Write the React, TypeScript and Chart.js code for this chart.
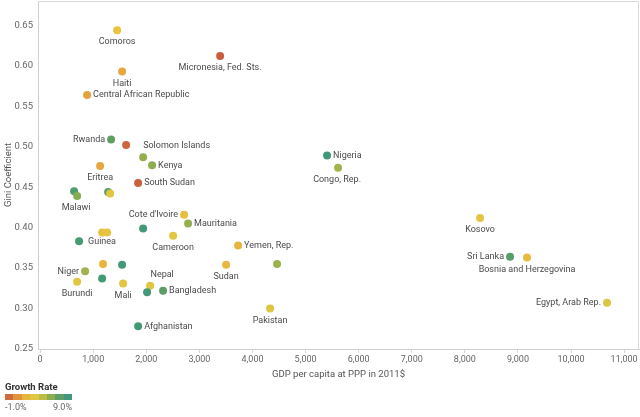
import React, { useEffect, useRef } from 'react';
import { Chart, registerables } from 'chart.js';

Chart.register(...registerables);

// ---------- data ----------
const countries: string[] = [
  'Comoros', 'Micronesia, Fed. Sts.', 'Haiti', 'Central African Republic', 'Rwanda',
  'Solomon Islands', '', 'Kenya', 'Eritrea', 'South Sudan',
  '', 'Malawi', '', '', 'Nigeria',
  'Congo, Rep.', "Cote d'Ivoire", 'Mauritania', '', '',
  '', 'Guinea', 'Cameroon', 'Yemen, Rep.', 'Niger',
  '', '', 'Burundi', '', 'Mali',
  'Nepal', '', 'Bangladesh', 'Sudan', 'Pakistan',
  '', 'Afghanistan', 'Kosovo', 'Sri Lanka', 'Bosnia and Herzegovina',
  'Egypt, Arab Rep.',
];

const gdpPerCapita: number[] = [
  1450, 3390, 1544, 885, 1337,
  1620, 1940, 2109, 1130, 1846,
  640, 697, 1281, 1318, 5405,
  5612, 2712, 2787, 1168, 1262,
  1940, 734, 2505, 3729, 847,
  1186, 1544, 697, 1168, 1563,
  2072, 2015, 2316, 3503, 4331,
  4463, 1846, 8286, 8851, 9171,
  10678,
];

const giniCoefficient: number[] = [
  0.644, 0.612, 0.593, 0.564, 0.509,
  0.502, 0.487, 0.477, 0.476, 0.455,
  0.445, 0.439, 0.444, 0.442, 0.489,
  0.474, 0.416, 0.405, 0.394, 0.394,
  0.399, 0.383, 0.390, 0.378, 0.346,
  0.355, 0.354, 0.333, 0.337, 0.331,
  0.328, 0.320, 0.322, 0.354, 0.300,
  0.355, 0.278, 0.412, 0.364, 0.363,
  0.307,
];

const growthRate: number[] = [
  3.0, -0.8, 1.5, 1.3, 7.0,
  -0.5, 5.6, 5.8, 1.5, -0.7,
  7.6, 6.0, 7.3, 3.2, 8.5,
  5.2, 2.6, 5.6, 2.8, 3.0,
  8.3, 8.0, 3.3, 2.2, 5.3,
  2.2, 8.3, 3.4, 8.2, 3.3,
  3.5, 8.3, 7.2, 2.3, 3.5,
  5.4, 8.2, 3.3, 7.3, 2.5,
  3.9,
];

const xTickValues: number[] = [0, 1000, 2000, 3000, 4000, 5000, 6000, 7000, 8000, 9000, 10000, 11000];
const yTickValues: number[] = [0.25, 0.3, 0.35, 0.4, 0.45, 0.5, 0.55, 0.6, 0.65];
const legendRange: number[] = [-1.0, 9.0];

// ---------- styles ----------
const FONT = "Roboto, 'Open Sans', 'DejaVu Sans', sans-serif";

const rampStops: [number, string][] = [
  [-1, '#c4553f'], [0.5, '#dc8a3b'], [1.5, '#e6a83e'], [3, '#e8c43f'], [4, '#d6c843'],
  [5, '#abb64a'], [6, '#86ab52'], [7, '#5f9f63'], [8, '#479a72'], [9, '#3a9381'],
];

function hexToRgb(h: string): number[] {
  const n = parseInt(h.slice(1), 16);
  return [(n >> 16) & 255, (n >> 8) & 255, n & 255];
}

function rampColor(v: number): string {
  if (v <= rampStops[0][0]) return rampStops[0][1];
  for (let i = 1; i < rampStops.length; i++) {
    const [v1, c1] = rampStops[i];
    const [v0, c0] = rampStops[i - 1];
    if (v <= v1) {
      const t = (v - v0) / (v1 - v0);
      const a = hexToRgb(c0);
      const b = hexToRgb(c1);
      const r = a.map((x, k) => Math.round(x + (b[k] - x) * t));
      return `rgb(${r[0]},${r[1]},${r[2]})`;
    }
  }
  return rampStops[rampStops.length - 1][1];
}

type Placement = { pos: 'r' | 'l' | 'b' | 't'; dx?: number; dy?: number };
const labelPlacement: Record<string, Placement> = {
  'Comoros': { pos: 'b' },
  'Micronesia, Fed. Sts.': { pos: 'b' },
  'Haiti': { pos: 'b' },
  'Central African Republic': { pos: 'r' },
  'Rwanda': { pos: 'l' },
  'Solomon Islands': { pos: 'r', dx: 11, dy: 1 },
  'Kenya': { pos: 'r' },
  'Eritrea': { pos: 'b' },
  'South Sudan': { pos: 'r' },
  'Malawi': { pos: 'b', dx: -1 },
  'Nigeria': { pos: 'r' },
  'Congo, Rep.': { pos: 'b', dx: -1 },
  "Cote d'Ivoire": { pos: 'l' },
  'Mauritania': { pos: 'r' },
  'Guinea': { pos: 'r', dx: 3 },
  'Cameroon': { pos: 'b' },
  'Yemen, Rep.': { pos: 'r' },
  'Niger': { pos: 'l' },
  'Burundi': { pos: 'b' },
  'Mali': { pos: 'b' },
  'Nepal': { pos: 't', dx: 12, dy: 1 },
  'Bangladesh': { pos: 'r' },
  'Sudan': { pos: 'b' },
  'Pakistan': { pos: 'b' },
  'Afghanistan': { pos: 'r' },
  'Kosovo': { pos: 'b' },
  'Sri Lanka': { pos: 'l' },
  'Bosnia and Herzegovina': { pos: 'b' },
  'Egypt, Arab Rep.': { pos: 'l' },
};

const framePlugin = {
  id: 'frame',
  beforeDatasetsDraw(chart: any) {
    const { ctx, chartArea: a } = chart;
    ctx.save();
    ctx.strokeStyle = '#d9d9d9';
    ctx.lineWidth = 1;
    ctx.beginPath();
    ctx.moveTo(a.left, a.top + 0.5);
    ctx.lineTo(a.right - 0.5, a.top + 0.5);
    ctx.lineTo(a.right - 0.5, a.bottom);
    ctx.stroke();
    ctx.restore();
  },
};

const labelPlugin = {
  id: 'pointLabels',
  afterDatasetsDraw(chart: any) {
    const { ctx } = chart;
    const meta = chart.getDatasetMeta(0);
    ctx.save();
    ctx.font = `9px ${FONT}`;
    ctx.fillStyle = '#4a4a4a';
    countries.forEach((name, i) => {
      if (!name) return;
      const p = labelPlacement[name] || { pos: 'r' };
      const el = meta.data[i];
      let x = el.x + (p.dx || 0);
      let y = el.y + (p.dy || 0);
      ctx.textBaseline = 'middle';
      if (p.pos === 'r') { ctx.textAlign = 'left'; x += 6; }
      else if (p.pos === 'l') { ctx.textAlign = 'right'; x -= 6; }
      else if (p.pos === 'b') { ctx.textAlign = 'center'; y += 12; }
      else { ctx.textAlign = 'center'; y -= 12; }
      ctx.fillText(name, x, y);
    });
    ctx.restore();
  },
};

export default function App() {
  const canvasRef = useRef<HTMLCanvasElement | null>(null);

  useEffect(() => {
    document.body.style.margin = '0';
    const canvas = canvasRef.current;
    if (!canvas) return;
    const points = gdpPerCapita.map((x, i) => ({ x, y: giniCoefficient[i] }));
    const colors = growthRate.map((g) => rampColor(g));
    const chart = new Chart(canvas, {
      type: 'scatter',
      data: {
        datasets: [
          {
            data: points,
            backgroundColor: colors,
            borderColor: colors,
            borderWidth: 0,
            pointRadius: 4,
            pointHoverRadius: 4,
          },
        ],
      },
      options: {
        animation: false,
        responsive: true,
        maintainAspectRatio: false,
        layout: { autoPadding: false, padding: { left: 0, right: 1, top: 1, bottom: 37 } },
        plugins: { legend: { display: false }, tooltip: { enabled: false } },
        scales: {
          x: {
            type: 'linear',
            min: -40,
            max: 11280,
            afterBuildTicks: (s: any) => { s.ticks = xTickValues.map((v) => ({ value: v })); },
            afterFit: (s: any) => { s.height = 31; },
            grid: { display: true, drawOnChartArea: false, drawTicks: true, tickLength: 4, color: '#d9d9d9' },
            border: { display: true, color: '#d0d0d0' },
            ticks: {
              padding: 1,
              color: '#666',
              font: { family: FONT, size: 9 },
              maxRotation: 0,
              autoSkip: false,
              callback: (v: any) => Number(v).toLocaleString('en-US'),
            },
            title: {
              display: true,
              text: 'GDP per capita at PPP in 2011$',
              color: '#555',
              font: { family: FONT, size: 9.5 },
              padding: 0,
            },
          },
          y: {
            type: 'linear',
            min: 0.25,
            max: 0.68,
            afterBuildTicks: (s: any) => { s.ticks = yTickValues.map((v) => ({ value: v })); },
            afterFit: (s: any) => { s.width = 38; },
            grid: { display: true, drawOnChartArea: false, drawTicks: true, tickLength: 5, color: 'rgba(0,0,0,0)' },
            border: { display: true, color: '#d0d0d0' },
            ticks: {
              padding: 0,
              color: '#666',
              font: { family: FONT, size: 9.5, lineHeight: '1px' },
              autoSkip: false,
              callback: (v: any) => Number(v).toFixed(2),
            },
            title: {
              display: true,
              text: 'Gini Coefficient',
              color: '#555',
              font: { family: FONT, size: 9.5 },
              padding: { top: 3, bottom: 0 },
            },
          },
        },
      },
      plugins: [framePlugin, labelPlugin],
    });
    return () => chart.destroy();
  }, []);

  const bins = 8;
  const binColors = Array.from({ length: bins }, (_, i) =>
    rampColor(legendRange[0] + ((i + 0.5) * (legendRange[1] - legendRange[0])) / bins)
  );

  return (
    <div style={{ position: 'relative', width: 640, height: 417, fontFamily: FONT }}>
      <canvas ref={canvasRef} />
      <div style={{ position: 'absolute', left: 5, top: 380, width: 80, color: '#333' }}>
        <div style={{ fontWeight: 700, fontSize: 9.5, lineHeight: '13px' }}>Growth Rate</div>
        <div style={{ display: 'flex', width: 67, height: 6, marginTop: 1 }}>
          {binColors.map((c, i) => (
            <div key={i} style={{ flex: 1, background: c }} />
          ))}
        </div>
        <div style={{ display: 'flex', justifyContent: 'space-between', width: 67, fontSize: 9, color: '#666', lineHeight: '13px', marginTop: 1 }}>
          <span>{legendRange[0].toFixed(1)}%</span>
          <span>{legendRange[1].toFixed(1)}%</span>
        </div>
      </div>
    </div>
  );
}
